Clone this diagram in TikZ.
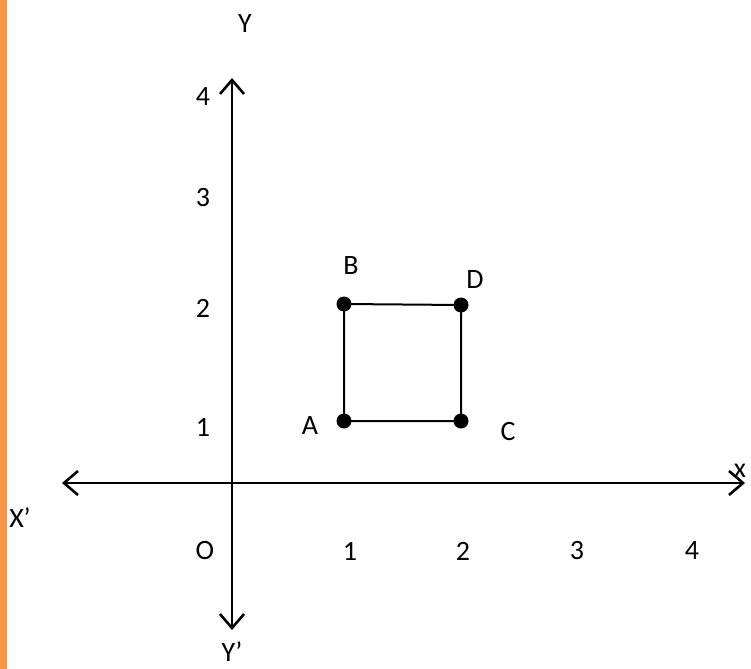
\documentclass[tikz,border=0pt]{standalone}
\usepackage{fontspec}
\setmainfont{Carlito}
\usetikzlibrary{arrows.meta, positioning}
\definecolor{sidebar}{HTML}{F79646}

\begin{document}
\begin{tikzpicture}[
    x=0.5pt, y=-0.5pt,
    dot/.style={circle, fill, inner sep=0pt, minimum size=7.5pt},
    lbl/.style={font=\fontsize{14}{16}\selectfont, inner sep=0pt},
    axis/.style={line width=1.3pt,
                 {Straight Barb[length=7pt,width=12pt]}-{Straight Barb[length=7pt,width=12pt]}},
    side/.style={line width=1pt}
  ]
  \useasboundingbox (0,0) rectangle (751,669);
  \fill[sidebar] (0,0) rectangle (7,669);

  % Axes
  \coordinate (xl) at (62,483);
  \coordinate (xr) at (745,483);
  \coordinate (yt) at (232,78);
  \coordinate (yb) at (232,630);
  \draw[axis] (xl) -- (xr);
  \draw[axis] (yb) -- (yt);

  \node[lbl] (ylab)  at (245,24)  {Y};
  \node[lbl] (yplab) at (232,652) {Y’};
  \node[lbl] (xplab) at (20,518)  {X’};
  \node[lbl] (xlab)  at (740,471) {x};
  \node[lbl] (olab)  at (205,551) {O};

  % Tick labels
  \foreach \v/\px in {1/350,2/463,3/577,4/692} {
    \node[lbl] (tx\v) at (\px,551) {\v};
  }
  \foreach \v/\py in {1/427,2/308,3/198,4/97} {
    \node[lbl] (ty\v) at (203,\py) {\v};
  }

  % Square
  \node[dot] (A) at (344,421) {};
  \node[dot] (B) at (344,304) {};
  \node[dot] (D) at (461,305) {};
  \node[dot] (C) at (461,421) {};
  \draw[side] (A.center) -- (B.center) -- (D.center) -- (C.center) -- cycle;

  \node[lbl] (alab) at (310,426) {A};
  \node[lbl] (blab) at (351,266) {B};
  \node[lbl] (dlab) at (475,280) {D};
  \node[lbl] (clab) at (508,432) {C};
\end{tikzpicture}
\end{document}
